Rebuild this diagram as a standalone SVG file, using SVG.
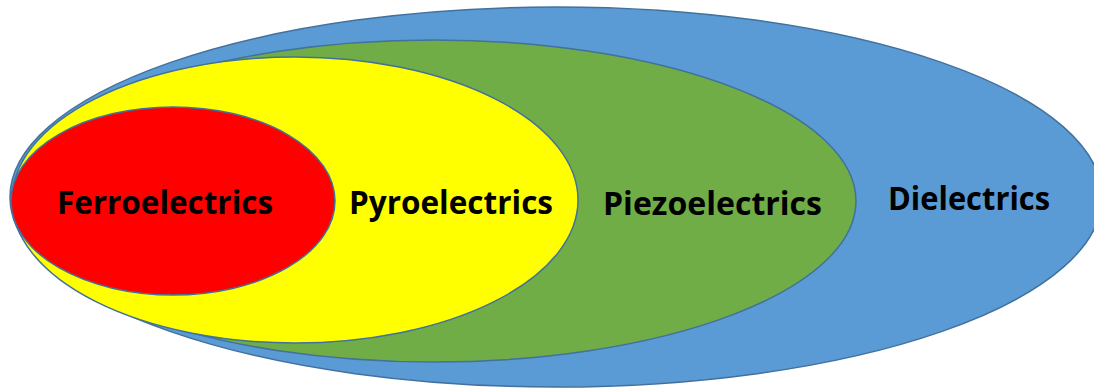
<svg xmlns="http://www.w3.org/2000/svg" width="1094" height="390" viewBox="0 0 1094 390">
<style>
.e{stroke:#41719C;stroke-width:1.5}
.t{font-family:"Open Sans","Liberation Sans",Arial,sans-serif;font-weight:bold;font-size:32px;fill:#000;text-anchor:middle}
</style>
<rect width="1094" height="390" fill="#fff"/>
<g id="dielectrics"><ellipse class="e" cx="556" cy="197" rx="546" ry="190" fill="#5B9BD5"/><text class="t" x="969" y="210" textLength="162" lengthAdjust="spacingAndGlyphs">Dielectrics</text></g>
<g id="piezoelectrics"><ellipse class="e" cx="434" cy="201" rx="422" ry="161" fill="#70AD47"/><text class="t" x="712.5" y="215" textLength="219" lengthAdjust="spacingAndGlyphs">Piezoelectrics</text></g>
<g id="pyroelectrics"><ellipse class="e" cx="295" cy="200" rx="283" ry="143" fill="#FFFF00"/><text class="t" x="451" y="214" textLength="204" lengthAdjust="spacingAndGlyphs">Pyroelectrics</text></g>
<g id="ferroelectrics"><ellipse class="e" cx="173" cy="201" rx="162" ry="94" fill="#FF0000"/><text class="t" x="165" y="214" textLength="216" lengthAdjust="spacingAndGlyphs">Ferroelectrics</text></g>
<g id="connectors"/>
</svg>
